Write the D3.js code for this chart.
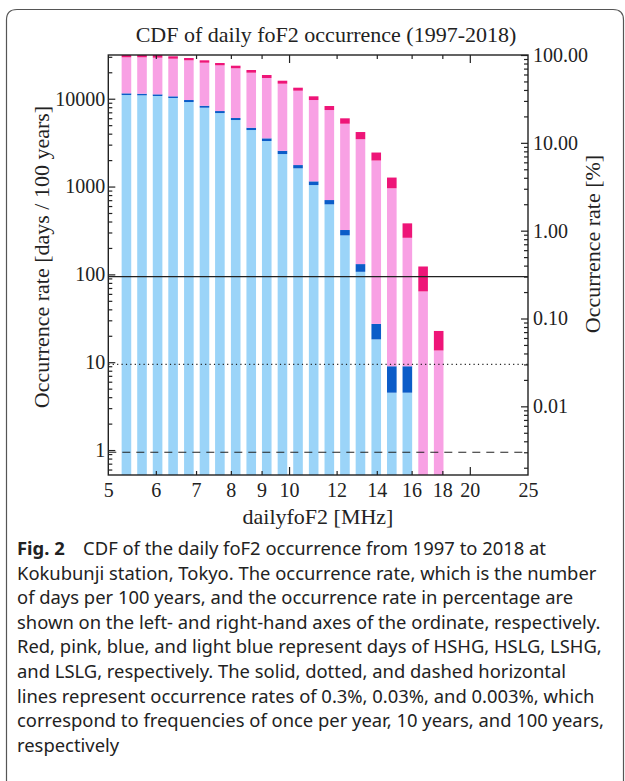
<!DOCTYPE html>
<html>
<head>
<meta charset="utf-8">
<script src="https://cdn.jsdelivr.net/npm/d3@7"></script>
<style>
  body { margin: 0; background: #fff; }
  svg { display: block; }
  .serif { font-family: "Liberation Serif", "Times New Roman", serif; fill: #222; }
  .caption { font-family: "Noto Sans", "Open Sans", sans-serif; fill: #222; }
</style>
</head>
<body>
<svg width="625" height="781"></svg>
<script>
// bar positions on the log frequency axis [MHz]
const freq = [5.36, 5.69, 6.04, 6.41, 6.81, 7.23, 7.67, 8.15, 8.65, 9.18, 9.75,
  10.35, 10.99, 11.67, 12.39, 13.15, 13.97, 14.83, 15.74, 16.72, 17.75]

// days per 100 years, stacked from bottom (LSLG) to top (HSHG)
const lslg = [11020, 10930, 10740, 10190, 9170, 7900, 6870, 5720, 4400, 3300, 2345,
  1612, 1040, 627, 278, 107, 18.2, 4.5, 4.5, 0, 0]
const lshg = [500, 470, 480, 460, 495, 425, 370, 310, 275, 240, 210,
  145, 106, 75, 42, 24, 9.1, 4.5, 4.5, 0, 0]
const hslg = [18090, 18210, 18090, 17900, 17705, 17375, 16770, 16170, 15105, 13670, 12265,
  10583, 8519, 6732, 4872, 3326, 1951, 947, 252, 64, 13.6]
const hshg = [1850, 1850, 2150, 1860, 1710, 1670, 1490, 1560, 1450, 1410, 1210,
  1010, 985, 825, 790, 719, 461, 310, 120, 59, 9.1]

const KEYS = ['lslg', 'lshg', 'hslg', 'hshg']
const COLORS = {lslg: '#9bd4f8', lshg: '#0b5cc8', hslg: '#f8a1e4', hshg: '#ee1578'}

// reference lines in percent (solid, dotted, dashed)
const refLines = [0.3, 0.03, 0.003]
const refDash = [null, '1.2,3.2', '8,6']

const xTicks = [5, 6, 7, 8, 9, 10, 12, 14, 16, 18, 20, 25]
const xMajor = [10, 20]
const leftTicks = [1, 10, 100, 1000, 10000]
const rightTicks = [0.01, 0.1, 1, 10, 100]

const title = 'CDF of daily foF2 occurrence (1997-2018)'
const xTitle = 'dailyfoF2 [MHz]'
const yTitle = 'Occurrence rate [days / 100 years]'
const y2Title = 'Occurrence rate [%]'
const captionLines = [
  'CDF of the daily foF2 occurrence from 1997 to 2018 at',
  'Kokubunji station, Tokyo. The occurrence rate, which is the number',
  'of days per 100 years, and the occurrence rate in percentage are',
  'shown on the left- and right-hand axes of the ordinate, respectively.',
  'Red, pink, blue, and light blue represent days of HSHG, HSLG, LSHG,',
  'and LSLG, respectively. The solid, dotted, and dashed horizontal',
  'lines represent occurrence rates of 0.3%, 0.03%, and 0.003%, which',
  'correspond to frequencies of once per year, 10 years, and 100 years,',
  'respectively'
]

const L = 108.3, R = 528, T = 55, B = 475
const DAYS_PER_PCT = 314.6
const Y_MIN = 0.52, Y_MAX = 31460
const BAR_W = 9.6

const svg = d3.select('svg')

const x = d3.scaleLog().domain([5, 25]).range([L, R])
const y = d3.scaleLog().domain([Y_MIN, Y_MAX]).range([B, T]).clamp(true)
const y2 = d3.scaleLog().domain([Y_MIN / DAYS_PER_PCT, Y_MAX / DAYS_PER_PCT]).range([B, T])

// outer rounded box
svg.append('path')
  .attr('d', 'M6.5,781 V20 Q6.5,9.5 17,9.5 H613 Q623.5,9.5 623.5,20 V781')
  .attr('fill', 'none')
  .attr('stroke', '#555')
  .attr('stroke-width', 1.2)

svg.append('text')
  .attr('class', 'serif')
  .attr('x', 326).attr('y', 42)
  .attr('text-anchor', 'middle')
  .style('font-size', '22px')
  .text(title)

// bars
const table = freq.map((f, i) => ({f, lslg: lslg[i], lshg: lshg[i], hslg: hslg[i], hshg: hshg[i]}))
const stacked = d3.stack().keys(KEYS)(table)

svg.append('g').attr('class', 'bars')
  .selectAll('g')
  .data(stacked)
  .join('g')
  .attr('fill', d => COLORS[d.key])
  .selectAll('rect')
  .data(d => d.filter(s => s[1] > s[0]))
  .join('rect')
  .attr('x', d => x(d.data.f) - BAR_W / 2)
  .attr('width', BAR_W)
  .attr('y', d => y(d[1]))
  .attr('height', d => y(Math.max(d[0], Y_MIN)) - y(d[1]))

// horizontal reference lines
svg.append('g')
  .selectAll('line')
  .data(refLines)
  .join('line')
  .attr('x1', L).attr('x2', R)
  .attr('y1', d => y2(d)).attr('y2', d => y2(d))
  .attr('stroke', '#222')
  .attr('stroke-width', (d, i) => i == 0 ? 1.4 : 1.2)
  .attr('stroke-dasharray', (d, i) => refDash[i])

// minor ticks for a log scale
function minorTicks(scale) {
  const [a, b] = scale.domain()
  const out = []
  for (let e = Math.floor(Math.log10(a)); e <= Math.ceil(Math.log10(b)); e++)
    for (let m = 2; m < 10; m++) {
      const v = m * Math.pow(10, e)
      if (v >= a && v <= b) out.push(v)
    }
  return out
}

function styleAxis(g) {
  g.select('.domain').remove()
  g.selectAll('line').attr('stroke', '#222').attr('stroke-width', 1.2)
  g.selectAll('text').attr('class', 'serif').attr('fill', null).style('font-size', '20px')
    .style('font-family', '"Liberation Serif", "Times New Roman", serif')
}

// left
svg.append('g').attr('transform', `translate(${L},0)`)
  .call(d3.axisLeft(y).tickValues(minorTicks(y)).tickSize(-4).tickFormat(''))
  .call(styleAxis)
svg.append('g').attr('transform', `translate(${L},0)`)
  .call(d3.axisLeft(y).tickValues(leftTicks).tickSize(-7).tickPadding(3).tickFormat(d3.format('d')))
  .call(styleAxis)

// right
svg.append('g').attr('transform', `translate(${R},0)`)
  .call(d3.axisRight(y2).tickValues(minorTicks(y2)).tickSize(-4).tickFormat(''))
  .call(styleAxis)
svg.append('g').attr('transform', `translate(${R},0)`)
  .call(d3.axisRight(y2).tickValues(rightTicks).tickSize(-7).tickPadding(5).tickFormat(d3.format('.2f')))
  .call(styleAxis)

// bottom + top
const xMinor = xTicks.filter(d => !xMajor.includes(d) && d > 5 && d < 25)
svg.append('g').attr('transform', `translate(0,${B})`)
  .call(d3.axisBottom(x).tickValues(xTicks).tickSize(0).tickPadding(8).tickFormat(d3.format('d')))
  .call(styleAxis)
svg.append('g').attr('transform', `translate(0,${B})`)
  .call(d3.axisBottom(x).tickValues(xMinor).tickSize(-4).tickFormat(''))
  .call(styleAxis)
svg.append('g').attr('transform', `translate(0,${B})`)
  .call(d3.axisBottom(x).tickValues(xMajor).tickSize(-8).tickFormat(''))
  .call(styleAxis)
svg.append('g').attr('transform', `translate(0,${T})`)
  .call(d3.axisTop(x).tickValues(xMinor).tickSize(-4).tickFormat(''))
  .call(styleAxis)
svg.append('g').attr('transform', `translate(0,${T})`)
  .call(d3.axisTop(x).tickValues(xMajor).tickSize(-8).tickFormat(''))
  .call(styleAxis)

// frame
svg.append('rect')
  .attr('x', L).attr('y', T)
  .attr('width', R - L).attr('height', B - T)
  .attr('fill', 'none')
  .attr('stroke', '#222')
  .attr('stroke-width', 1.4)

// axis titles
svg.append('text')
  .attr('class', 'serif')
  .attr('x', 318).attr('y', 524)
  .attr('text-anchor', 'middle')
  .style('font-size', '22px')
  .text(xTitle)

svg.append('text')
  .attr('class', 'serif')
  .attr('transform', 'translate(49,257) rotate(-90)')
  .attr('text-anchor', 'middle')
  .style('font-size', '22px')
  .text(yTitle)

svg.append('text')
  .attr('class', 'serif')
  .attr('transform', 'translate(600,244) rotate(-90)')
  .attr('text-anchor', 'middle')
  .style('font-size', '22px')
  .text(y2Title)

// caption
const cap = svg.append('text')
  .attr('class', 'caption')
  .style('font-size', '18.4px')

cap.selectAll('tspan')
  .data(captionLines)
  .join('tspan')
  .attr('x', 17)
  .attr('y', (d, i) => 555 + i * 24.6)
  .each(function(d, i) {
    const t = d3.select(this)
    if (i == 0) {
      t.append('tspan').style('font-weight', 'bold').text('Fig. 2')
      t.append('tspan').text('\u2003' + d)
    } else {
      t.text(d)
    }
  })
</script>
</body>
</html>
